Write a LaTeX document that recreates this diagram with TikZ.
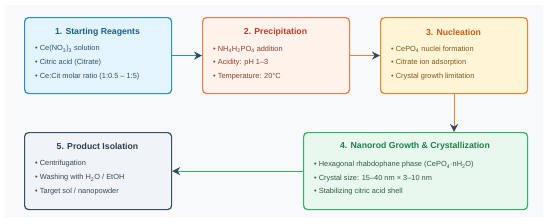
\documentclass[tikz,border=0pt]{standalone}
\usepackage{fontspec}
\setmainfont{Liberation Sans}
\usetikzlibrary{arrows.meta}
\definecolor{bgpanel}{HTML}{F7F9FB}
\definecolor{bluefill}{HTML}{E3F4FC}
\definecolor{blueline}{HTML}{2A91C0}
\definecolor{bluetitle}{HTML}{1A5F85}
\definecolor{bluetext}{HTML}{2F5166}
\definecolor{orfill}{HTML}{FFF3EB}
\definecolor{orline}{HTML}{F07A4A}
\definecolor{ortitle}{HTML}{C63A22}
\definecolor{ortext}{HTML}{8A3F2E}
\definecolor{yefill}{HTML}{FEF5D6}
\definecolor{yeline}{HTML}{E8832A}
\definecolor{yetitle}{HTML}{C85A14}
\definecolor{yetext}{HTML}{80561E}
\definecolor{grfill}{HTML}{E9F8EE}
\definecolor{grline}{HTML}{2DB560}
\definecolor{grtitle}{HTML}{1F7F45}
\definecolor{grtext}{HTML}{2F5C42}
\definecolor{gyfill}{HTML}{F0F3F8}
\definecolor{gyline}{HTML}{3D4D5E}
\definecolor{gytitle}{HTML}{2C3E50}
\definecolor{gytext}{HTML}{3A4756}
\definecolor{arrowdark}{HTML}{34495E}
\begin{document}
\begin{tikzpicture}[x=1pt,y=-1pt,
  stagebox/.style={draw, line width=1.2pt, rounded corners=4pt, anchor=north west, minimum height=76pt, inner sep=0pt},
  stitle/.style={font=\fontsize{8.7}{10}\selectfont\bfseries, anchor=center, inner sep=0pt},
  sitem/.style={font=\fontsize{7.4}{8.5}\selectfont, anchor=west, inner sep=0pt},
  flow/.style={line width=1.2pt, -{Stealth[length=8pt,width=8pt,color=arrowdark]}}]
\useasboundingbox (0,0) rectangle (550,223);
\fill[bgpanel] (5,5) rectangle (543,218);
% boxes
\node[stagebox, fill=bluefill, draw=blueline, minimum width=147pt] (b1) at (24,17) {};
\node[stagebox, fill=orfill, draw=orline, minimum width=147pt] (b2) at (202,17) {};
\node[stagebox, fill=yefill, draw=yeline, minimum width=147pt] (b3) at (380,17) {};
\node[stagebox, fill=grfill, draw=grline, minimum width=224pt, minimum height=77pt] (b4) at (303,132) {};
\node[stagebox, fill=gyfill, draw=gyline, minimum width=147pt, minimum height=77pt] (b5) at (24,132) {};
% box 1
\node[stitle, text=bluetitle] (t1) at (97.5,32) {1. Starting Reagents};
\node[sitem, text=bluetext] (i11) at (35,49) {• Ce(NO\textsubscript{3})\textsubscript{3} solution};
\node[sitem, text=bluetext] (i12) at (35,63) {• Citric acid (Citrate)};
\node[sitem, text=bluetext] (i13) at (35,77) {• Ce:Cit molar ratio (1:0.5 – 1:5)};
% box 2
\node[stitle, text=ortitle] (t2) at (275.5,32) {2. Precipitation};
\node[sitem, text=ortext] (i21) at (213,49) {• NH\textsubscript{4}H\textsubscript{2}PO\textsubscript{4} addition};
\node[sitem, text=ortext] (i22) at (213,63) {• Acidity: pH 1–3};
\node[sitem, text=ortext] (i23) at (213,77) {• Temperature: 20°C};
% box 3
\node[stitle, text=yetitle] (t3) at (453.5,32) {3. Nucleation};
\node[sitem, text=yetext] (i31) at (391,49) {• CePO\textsubscript{4} nuclei formation};
\node[sitem, text=yetext] (i32) at (391,63) {• Citrate ion adsorption};
\node[sitem, text=yetext] (i33) at (391,77) {• Crystal growth limitation};
% box 4
\node[stitle, text=grtitle] (t4) at (415,146.5) {4. Nanorod Growth \& Crystallization};
\node[sitem, text=grtext] (i41) at (314,165) {• Hexagonal rhabdophane phase (CePO\textsubscript{4}·nH\textsubscript{2}O)};
\node[sitem, text=grtext] (i42) at (314,178.5) {• Crystal size: 15–40 nm × 3–10 nm};
\node[sitem, text=grtext] (i43) at (314,192) {• Stabilizing citric acid shell};
% box 5
\node[stitle, text=gytitle] (t5) at (97.5,146.5) {5. Product Isolation};
\node[sitem, text=gytext] (i51) at (35,164) {• Centrifugation};
\node[sitem, text=gytext] (i52) at (35,178) {• Washing with H\textsubscript{2}O / EtOH};
\node[sitem, text=gytext] (i53) at (35,192) {• Target sol / nanopowder};
% connectors
\draw[flow, draw=blueline] (b1.east) -- (b2.west);
\draw[flow, draw=orline] (b2.east) -- (b3.west);
\draw[flow, draw=yeline] (b3.south) -- (b3.south |- b4.north);
\draw[flow, draw=grline] (b4.west |- b5.east) -- (b5.east);
\end{tikzpicture}
\end{document}
